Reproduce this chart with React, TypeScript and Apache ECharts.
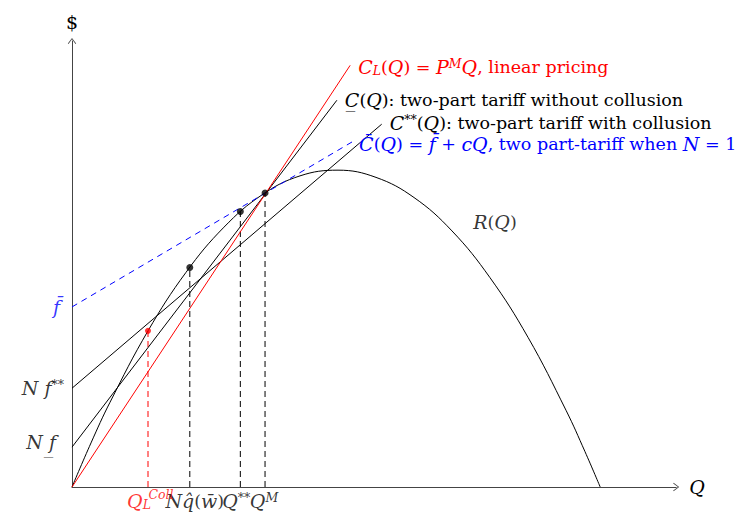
import React, { useEffect, useRef } from "react";
import * as echarts from "echarts";

// ---- data (units: quantity Q on x, dollars on y) ----
const rQ = [0, 0.5, 1, 2, 3, 4, 5, 6, 7, 8, 9, 10, 11, 12, 13, 13.5, 13.9];
const rVal = [0, 1.16, 2.23, 4.11, 5.65, 6.84, 7.69, 8.19, 8.34, 8.15, 7.62, 6.74, 5.51, 3.94, 2.02, 0.93, 0];

const Q_L_COLL = 2.0;
const R_L_COLL = 4.11;
const Q_HAT = 3.1;
const R_HAT = 5.78;
const Q_SS = 4.43;
const R_SS = 7.25;
const Q_M = 5.08;
const R_M = 7.74;

const F_BAR = 4.74; // intercept of C-bar
const NF_SS = 2.6; // N f**
const NF_UNDER = 1.05; // N f_

const cLinear = [[0, 0], [7.32, 11.1]];
const cUnder = [[0, NF_UNDER], [6.97, 10.18]];
const cStar = [[0, NF_SS], [8.15, 9.55]];
const cBar = [[0, F_BAR], [7.45, 9.13]];

const X_MAX = 15.9;
const Y_MAX = 11.74;

const FONT = "DejaVu Serif";
const FS_R = 17.5;
const FS_I = 19;
const FS_S = 12.5;
const RED = "#ff0000";
const BLUE = "#0000ff";
const BLACK = "#000000";

function rich(color: string) {
  return {
    i: { fontFamily: FONT, fontStyle: "italic", fontSize: FS_I, lineHeight: 20, color },
    r: { fontFamily: FONT, fontSize: FS_R, lineHeight: 20, color },
    sup: { fontFamily: FONT, fontStyle: "italic", fontSize: FS_S, lineHeight: 8, verticalAlign: "top", color },
    supr: { fontFamily: FONT, fontSize: FS_S, lineHeight: 11, verticalAlign: "top", color },
    sub: { fontFamily: FONT, fontStyle: "italic", fontSize: FS_S, lineHeight: 10, verticalAlign: "bottom", color },
  };
}

const ARROW = "path://M0,8 L6,0 L12,8 L11,8.6 L6,1.8 L1,8.6 Z";

function vline(q: number, r: number, color: string) {
  return {
    type: "line",
    data: [[q, 0], [q, r]],
    symbol: "none",
    silent: true,
    lineStyle: { color, width: 1, type: [6, 4] },
    z: 2,
  };
}

function buildOption() {
  return {
    animation: false,
    backgroundColor: "#fff",
    grid: { left: 72, top: 41, right: 742 - 72 - X_MAX * 38, bottom: 36 },
    xAxis: {
      type: "value",
      min: 0,
      max: X_MAX,
      axisLine: {
        show: true,
        lineStyle: { color: "#444", width: 1 },
        symbol: ["none", ARROW],
        symbolSize: [9, 6],
      },
      axisTick: { show: false },
      axisLabel: { show: false },
      splitLine: { show: false },
      name: "Q",
      nameLocation: "end",
      nameGap: 13,
      nameTextStyle: { fontFamily: FONT, fontStyle: "italic", fontSize: FS_I, color: BLACK },
    },
    yAxis: {
      type: "value",
      min: 0,
      max: Y_MAX,
      axisLine: {
        show: true,
        lineStyle: { color: "#444", width: 1 },
        symbol: ["none", ARROW],
        symbolSize: [9, 6],
      },
      axisTick: { show: false },
      axisLabel: { show: false },
      splitLine: { show: false },
      name: "$",
      nameLocation: "end",
      nameGap: 10,
      nameTextStyle: { fontFamily: FONT, fontSize: 19, color: BLACK },
    },
    series: [
      {
        name: "R",
        type: "line",
        data: rQ.map((q, i) => [q, rVal[i]]),
        smooth: 0.4,
        symbol: "none",
        lineStyle: { color: BLACK, width: 1 },
        z: 3,
      },
      {
        name: "CL",
        type: "line",
        data: cLinear,
        symbol: "none",
        lineStyle: { color: RED, width: 1 },
        z: 4,
        endLabel: {
          show: true,
          distance: 8,
          offset: [0, 2],
          formatter: "{i|C}{sub|L}{r|(}{i|Q}{r|) = }{i|P}{sup|M}{i|Q}{r|, linear pricing}",
          rich: rich(RED),
        },
      },
      {
        name: "Cunder",
        type: "line",
        data: cUnder,
        symbol: "none",
        lineStyle: { color: BLACK, width: 1 },
        z: 3,
        endLabel: {
          show: true,
          distance: 8,
          formatter: "{i|C\u0332}{r|(}{i|Q}{r|): two-part tariff without collusion}",
          rich: rich(BLACK),
        },
      },
      {
        name: "Cstar",
        type: "line",
        data: cStar,
        symbol: "none",
        lineStyle: { color: BLACK, width: 1 },
        z: 3,
        endLabel: {
          show: true,
          distance: 8,
          offset: [0, -1],
          formatter: "{i|C}{supr|**}{r|(}{i|Q}{r|): two-part tariff with collusion}",
          rich: rich(BLACK),
        },
      },
      {
        name: "Cbar",
        type: "line",
        data: cBar,
        symbol: "none",
        lineStyle: { color: BLUE, width: 1, type: [6, 5] },
        z: 3,
        endLabel: {
          show: true,
          distance: 4,
          offset: [0, 4],
          formatter: "{i|C\u0304}{r|(}{i|Q}{r|) = }{i|f\u0304}{r| + }{i|cQ}{r|, two part-tariff when }{i|N}{r| = 1}",
          rich: rich(BLUE),
        },
      },
      vline(Q_L_COLL, R_L_COLL, RED),
      vline(Q_HAT, R_HAT, BLACK),
      vline(Q_SS, R_SS, BLACK),
      vline(Q_M, R_M, BLACK),
      {
        type: "scatter",
        data: [[Q_HAT, R_HAT], [Q_SS, R_SS], [Q_M, R_M]],
        symbolSize: 7,
        itemStyle: { color: BLACK },
        silent: true,
        z: 6,
      },
      {
        type: "scatter",
        data: [[Q_L_COLL, R_L_COLL]],
        symbolSize: 6,
        itemStyle: { color: RED },
        silent: true,
        z: 6,
      },
      {
        type: "scatter",
        symbolSize: 0,
        silent: true,
        z: 7,
        label: { show: true },
        data: [
          { value: [Q_L_COLL, 0], label: { position: "bottom", distance: 0, offset: [-9, 3.5], formatter: "{i|Q}{sub|L}", rich: rich(RED) } },
          { value: [Q_HAT, 0], label: { position: "bottom", distance: 0, offset: [5, 4], formatter: "{i|Nq\u0302}{r|(}{i|w\u0304}{r|)}", rich: rich(BLACK) } },
          { value: [Q_SS, 0], label: { position: "bottom", distance: 0, offset: [-4, 4], formatter: "{i|Q}{supr|**}", rich: rich(BLACK) } },
          { value: [Q_M, 0], label: { position: "bottom", distance: 0, offset: [-1, 4], formatter: "{i|Q}{sup|M}", rich: rich(BLACK) } },
          { value: [0, F_BAR], label: { position: "left", distance: 12, formatter: "{i|f\u0304}", rich: rich(BLUE) } },
          { value: [0, NF_SS], label: { position: "left", distance: 8, formatter: "{i|N f}{supr|**}", rich: rich(BLACK) } },
          { value: [0, NF_UNDER], label: { position: "left", distance: 16, offset: [0, -5], formatter: "{i|N f\u0332}", rich: rich(BLACK) } },
          { value: [11.13, 6.97], label: { position: "inside", formatter: "{i|R}{r|(}{i|Q}{r|)}", rich: rich(BLACK) } },
        ],
      },
      {
        type: "scatter",
        symbolSize: 0,
        silent: true,
        z: 8,
        label: { show: true },
        data: [
          { value: [Q_L_COLL, 0], label: { position: "bottom", distance: 0, offset: [13, 0.5], formatter: "{sup|Coll}", rich: rich(RED) } },
        ],
      },
    ],
  };
}

export default function App() {
  const ref = useRef<HTMLDivElement>(null);
  useEffect(() => {
    if (!ref.current) return;
    const chart = echarts.init(ref.current, null, { renderer: "svg" });
    chart.setOption(buildOption() as any);
    return () => chart.dispose();
  }, []);
  return (
    <div
      ref={ref}
      style={{ position: "fixed", left: 0, top: 0, width: 742, height: 523, background: "#fff" }}
    />
  );
}
